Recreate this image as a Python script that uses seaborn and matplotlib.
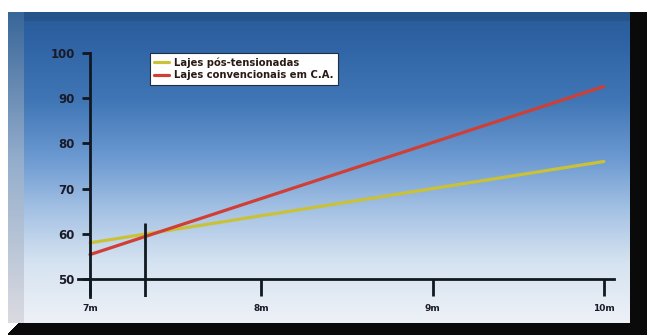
import numpy as np
import pandas as pd
import matplotlib
matplotlib.use("Agg")
import matplotlib.pyplot as plt
import seaborn as sns

# span of the slab (m) and the two series
vaos = [7, 10]
pos_tensionadas = [58.0, 76.0]
convencionais = [55.4, 92.6]
series_names = ["Lajes pós-tensionadas", "Lajes convencionais em C.A."]
x_ticks = [7, 8, 9, 10]
x_labels = ["7m", "8m", "9m", "10m"]
y_ticks = [50, 60, 70, 80, 90, 100]
marker_span = 7.32
marker_top = 62.5

df = pd.DataFrame({
    "vao": vaos * 2,
    "valor": pos_tensionadas + convencionais,
    "serie": [series_names[0]] * len(vaos) + [series_names[1]] * len(vaos),
})

sns.set_theme(style="white")
plt.rcParams["font.family"] = ["DejaVu Sans"]

W, H = 647, 335
fig = plt.figure(figsize=(W / 100, H / 100), dpi=100)

# framed panel with a vertical blue-to-white gradient
img = np.ones((H, W, 3))
ys = np.arange(H)
stops_y = [12, 40, 100, 160, 210, 260, 323]
stops_c = np.array([
    [42, 92, 152], [46, 98, 164], [64, 118, 182], [110, 155, 210],
    [165, 194, 228], [212, 226, 240], [238, 242, 247]]) / 255.0
grad = np.stack([np.interp(ys, stops_y, stops_c[:, k]) for k in range(3)], axis=1)
top, bottom, left, right = 12, 323, 8, 630
img[top:bottom, left:right] = grad[top:bottom, None, :]
# bevels: top and left strips
img[top:top + 9, left:right] *= 0.9
lefts = np.stack([np.interp(ys, [12, 160, 323], c) for c in
                  ([0.22, 0.58, 0.86], [0.40, 0.68, 0.86], [0.60, 0.80, 0.88])], axis=1)
img[top:bottom, left:left + 16] = lefts[top:bottom, None, :]
# dark right and bottom edges
img[top:, right:] = 0.04
img[bottom:, left:] = 0.04
for i in range(bottom, H):
    img[i, left:left + 10 - (i - bottom)] = 1.0

bg = fig.add_axes([0, 0, 1, 1])
bg.imshow(img, extent=(0, W, H, 0), aspect="auto", interpolation="bilinear")
bg.axis("off")

# plotting area placed so that 7m..10m and 50..100 fall on the panel scale
px_per_m = 171.3
px_per_unit = 4.52
x0_px, y50_px = 90, 279
xlim = (7 - 12 / px_per_m, 10 + 10 / px_per_m)
ylim = (50 - 18 / px_per_unit, 100)
left_px = x0_px - 12
right_px = x0_px + (xlim[1] - 7) * px_per_m
bot_px = y50_px + 18
top_px = y50_px - 50 * px_per_unit
ax = fig.add_axes([left_px / W, 1 - bot_px / H,
                   (right_px - left_px) / W, (bot_px - top_px) / H])
ax.set_facecolor("none")

sns.lineplot(data=df, x="vao", y="valor", hue="serie", ax=ax,
             palette=["#c9c238", "#cf3f36"], linewidth=2.3)

ax.set_xlim(*xlim)
ax.set_ylim(*ylim)
ax.set_xlabel("")
ax.set_ylabel("")

axis_color = "#101820"
for side in ["top", "right"]:
    ax.spines[side].set_visible(False)
ax.spines["left"].set_position(("data", 7))
ax.spines["bottom"].set_position(("data", 50))
for side in ["left", "bottom"]:
    ax.spines[side].set_color(axis_color)
    ax.spines[side].set_linewidth(2.0)

ax.set_xticks(x_ticks)
ax.set_xticklabels(x_labels)
ax.set_yticks(y_ticks)
ax.tick_params(axis="x", direction="out", length=12, width=2.0, color=axis_color,
               pad=6, labelsize=6.5, labelcolor="#1a1a28", bottom=True)
ax.tick_params(axis="y", direction="out", length=6, width=2.0, color=axis_color,
               pad=5, labelsize=8.5, labelcolor="#1a1a28", left=True)
for lbl in ax.get_xticklabels() + ax.get_yticklabels():
    lbl.set_fontweight("bold")

# span marker near the crossing of the two curves
ax.vlines(marker_span, ylim[0], marker_top, color=axis_color, linewidth=2.0)

handles, labels = ax.get_legend_handles_labels()
leg = ax.legend(handles, labels, loc="upper left",
                bbox_to_anchor=(150 / W, 1 - 53 / H), bbox_transform=fig.transFigure,
                frameon=True, fancybox=False, facecolor="white", edgecolor="#203040",
                framealpha=1.0, fontsize=7.2, handlelength=1.5, handletextpad=0.5,
                borderpad=0.4, labelspacing=0.3, borderaxespad=0)
leg.get_frame().set_linewidth(0.8)
for t in leg.get_texts():
    t.set_fontweight("bold")
    t.set_color("#2a1a14")

fig.savefig("out.png", dpi=100)
